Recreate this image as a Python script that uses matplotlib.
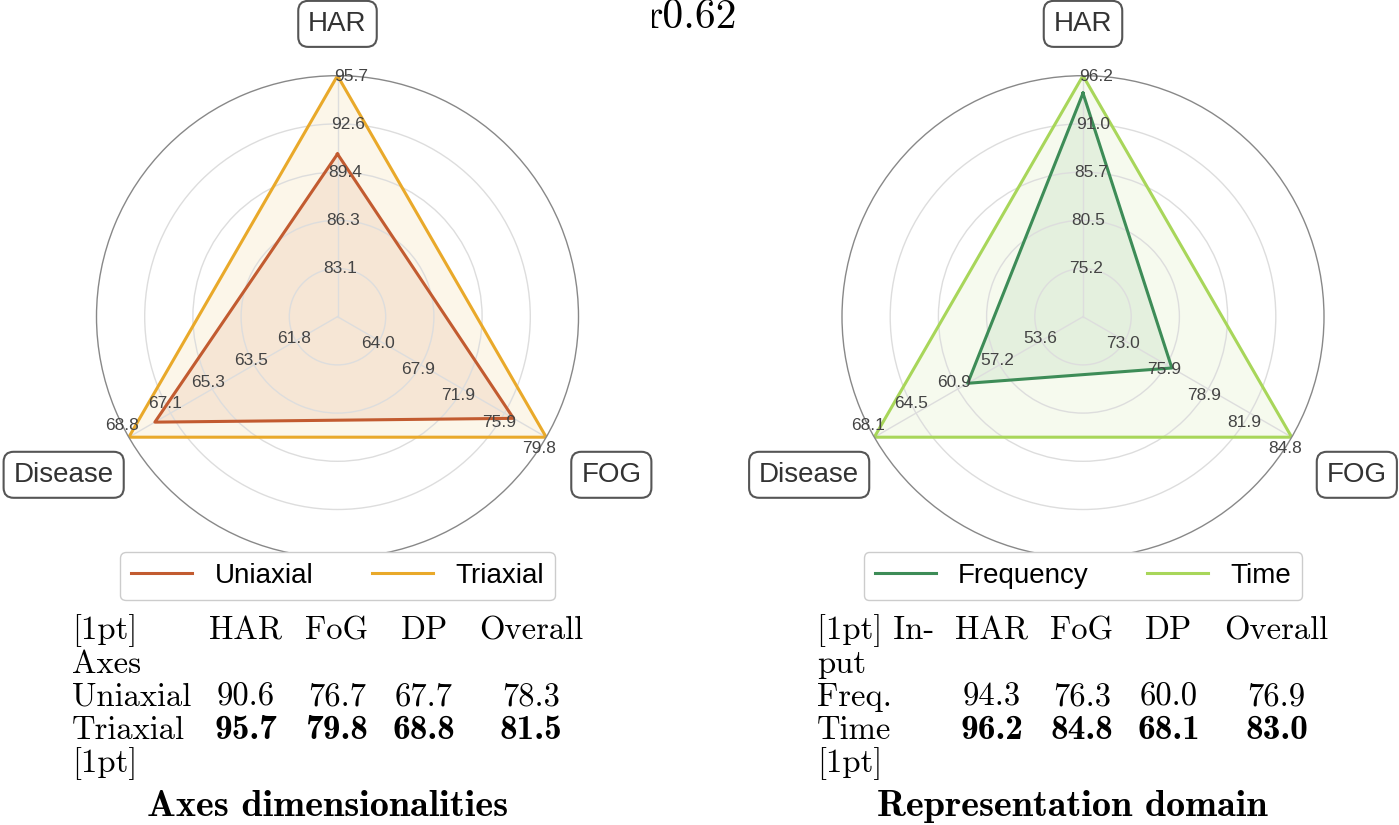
import numpy as np
import matplotlib.pyplot as plt
from matplotlib.transforms import Bbox

categories = ['HAR', 'FOG', 'Disease']
table_cols = ['HAR', 'FoG', 'DP', 'Overall']

# left panel: axes dimensionalities
axes_names = ['Uniaxial', 'Triaxial']
uniaxial = [90.6, 76.7, 67.7]
triaxial = [95.7, 79.8, 68.8]
axes_overall = [78.3, 81.5]
axes_min = [80.0, 60.0, 60.0]
axes_ticks = [['83.1', '86.3', '89.4', '92.6', '95.7'],
              ['64.0', '67.9', '71.9', '75.9', '79.8'],
              ['61.8', '63.5', '65.3', '67.1', '68.8']]

# right panel: representation domain
domain_names = ['Frequency', 'Time']
frequency = [94.3, 76.3, 60.0]
time_dom = [96.2, 84.8, 68.1]
domain_overall = [76.9, 83.0]
domain_min = [70.0, 70.0, 50.0]
domain_ticks = [['75.2', '80.5', '85.7', '91.0', '96.2'],
                ['73.0', '75.9', '78.9', '81.9', '84.8'],
                ['53.6', '57.2', '60.9', '64.5', '68.1']]

W, H = 1399, 825
SANS = 'Liberation Sans'


def fx(x):
    return x / W


def fy(y):
    return 1 - y / H


def radar(fig, cx, series, names, colors, mins, ticks, legend_y):
    R = 241
    ax = fig.add_axes([fx(cx - R), fy(316.7 + R), 2 * R / W, 2 * R / H],
                      projection='polar')
    ax.set_theta_offset(np.pi / 2)
    ax.set_theta_direction(-1)
    angles = np.arange(len(categories)) * 2 * np.pi / len(categories)
    ax.set_xticks(angles)
    ax.set_xticklabels([])
    ax.set_yticks([0.2, 0.4, 0.6, 0.8])
    ax.set_yticklabels([])
    ax.set_ylim(0, 1)
    ax.grid(color='#dddddd', lw=1)
    ax.spines['polar'].set_color('#888888')
    ax.spines['polar'].set_linewidth(1)

    maxs = np.max(np.array(series), axis=0)
    mins = np.array(mins)
    closed = np.append(angles, angles[0])
    for vals, name, col in zip(series, names, colors):
        r = (np.array(vals) - mins) / (maxs - mins)
        r = np.append(r, r[0])
        ax.fill(closed, r, color=col, alpha=0.1, lw=0)
        ax.plot(closed, r, color=col, lw=2.2, label=name)

    for a, labs in zip(angles, ticks):
        for j, lab in enumerate(labs):
            ax.text(a + 0.055, (j + 1) / 5, lab, ha='center', va='center',
                    fontsize=12.5, color='#444444', family=SANS)

    box = dict(boxstyle='round,pad=0.36', fc='white', ec='#555555', lw=1.5)
    pos = [(0, 1.215), (angles[1], 1.312), (angles[2], 1.312)]
    for (a, r), cat in zip(pos, categories):
        ax.text(a, r, cat, ha='center', va='center', fontsize=20,
                color='#333333', family=SANS, bbox=box)

    leg = ax.legend(loc='upper center', bbox_to_anchor=(fx(cx), fy(legend_y)),
                    bbox_transform=fig.transFigure, ncol=2, borderaxespad=0,
                    prop={'family': SANS, 'size': 20}, handlelength=2.2,
                    handletextpad=0.8, columnspacing=2.1, fancybox=True,
                    edgecolor='#cccccc', framealpha=1)
    leg.get_frame().set_linewidth(1)
    return ax


def table(fig, label_x, col_x, row_labels, header, rows, title, title_x):
    base = [639, 673, 706, 739, 772]
    kw = dict(fontsize=23.5, va='baseline')
    fig.text(fx(label_x), fy(base[0]), row_labels[0], family='cmr10', **kw)
    for x, h in zip(col_x, header):
        fig.text(fx(x), fy(base[0]), h, family='cmr10', ha='center', **kw)
    fig.text(fx(label_x), fy(base[1]), row_labels[1], family='cmr10', **kw)
    best = np.max(np.array(rows), axis=0)
    for i, vals in enumerate(rows):
        y = fy(base[2 + i])
        fig.text(fx(label_x), y, row_labels[2 + i], family='cmr10', **kw)
        for x, v, b in zip(col_x, vals, best):
            if v == b:
                fig.text(fx(x), y, '%.1f' % v, family='cmb10', ha='center',
                         fontsize=25.5, va='baseline')
            else:
                fig.text(fx(x), y, '%.1f' % v, family='cmr10', ha='center', **kw)
    fig.text(fx(label_x), fy(base[4]), row_labels[4], family='cmr10', **kw)
    fig.text(fx(title_x), fy(816), title, family='cmb10', fontsize=27.5,
             ha='center', va='baseline')


fig = plt.figure(figsize=(W / 100, H / 100), dpi=100)

radar(fig, 337.5, [uniaxial, triaxial], axes_names, ['#c25b30', '#e9a92a'],
      axes_min, axes_ticks, 552)
radar(fig, 1083, [frequency, time_dom], domain_names, ['#3d8c57', '#a8d65a'],
      domain_min, domain_ticks, 552)

table(fig, 72, [246, 337, 424, 531],
      ['[1pt]', 'Axes', 'Uniaxial', 'Triaxial', '[1pt]'], table_cols,
      [uniaxial + [axes_overall[0]], triaxial + [axes_overall[1]]],
      'Axes dimensionalities', 327.5)
table(fig, 817, [992, 1082, 1169, 1276.5],
      ['[1pt] In-', 'put', 'Freq.', 'Time', '[1pt]'], table_cols,
      [frequency + [domain_overall[0]], time_dom + [domain_overall[1]]],
      'Representation domain', 1072.5)

# leftover wrapfigure argument, clipped on the left like in the source
t = fig.text(fx(737), fy(28), 'r0.62', family='cmr10', fontsize=30,
             ha='right', va='baseline', clip_on=True)
t.set_clip_box(Bbox([[652, 0], [W, H]]))

fig.savefig('out.png', dpi=100)
